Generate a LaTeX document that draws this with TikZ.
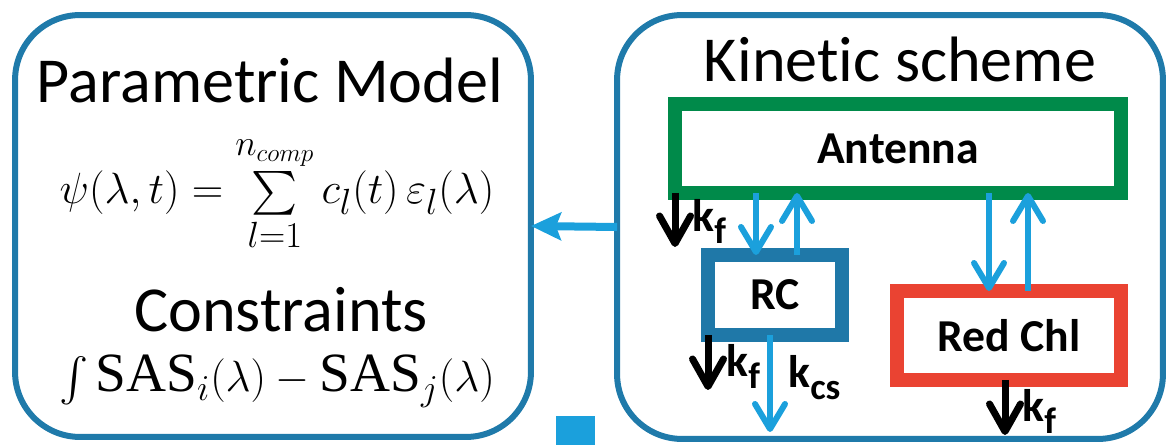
\documentclass[tikz,border=0pt]{standalone}
\usepackage{exscale}
\usepackage{fontspec}
\setmainfont{Carlito}[Ligatures=NoCommon]
\setmathrm{Liberation Serif}
\usetikzlibrary{arrows.meta,calc}

\definecolor{panelblue}{RGB}{31,122,170}
\definecolor{flowblue}{RGB}{27,160,220}
\definecolor{antgreen}{RGB}{0,138,74}
\definecolor{chlred}{RGB}{234,67,50}
\definecolor{rcblue}{RGB}{31,120,168}

\newcommand{\rate}[1]{k\raisebox{-6.5pt}{\fontsize{21}{21}\selectfont #1}}

\tikzset{
  panel/.style={draw=panelblue, line width=0.12cm, rounded corners=1.3cm,
    inner sep=0pt, outer sep=0pt},
  state/.style={draw, line width=0.28cm, inner sep=0pt, outer sep=0pt,
    font=\bfseries\fontsize{26}{30}\selectfont},
  flow/.style={draw=flowblue, line width=0.12cm,
    -{Straight Barb[length=0.5cm, width=0.6cm, round]}},
  decay/.style={draw=black, line width=0.14cm,
    -{Straight Barb[length=0.55cm, width=0.62cm, round]}},
  link/.style={draw=flowblue, line width=0.16cm,
    -{Stealth[length=0.6cm, width=0.55cm, inset=0.1cm]}},
  heading/.style={font=\fontsize{36.5}{42}\selectfont, inner sep=0pt},
  ratelabel/.style={font=\bfseries\fontsize{26}{30}\selectfont, inner sep=0pt},
  formula/.style={font=\fontsize{31.5}{36}\selectfont, inner sep=0pt}
}

\begin{document}
\begin{tikzpicture}[x=0.02cm, y=-0.02cm]
  \useasboundingbox (0,0) rectangle (1166,445);

  % the two panels
  \node[panel, minimum width=10.32cm, minimum height=8.44cm] (model) at (273,226) {};
  \node[panel, minimum width=10.92cm, minimum height=8.48cm] (scheme) at (890,227) {};
  \draw[link] (scheme.west) -- (model.east);
  \fill[flowblue] (556,416) rectangle (595,445);

  % left panel
  \node[heading, anchor=base] (title) at (270,103) {Parametric Model};
  \node[formula, anchor=base] (psi) at (277,204)
    {$\psi(\lambda,t)=\sum\limits_{l=1}^{n_{comp}\rule[-4pt]{0pt}{4pt}} c_l(t)\,\varepsilon_l(\lambda)$};
  \node[heading, anchor=base] (constr) at (281,332) {Constraints};
  \node[formula, anchor=base] (sas) at (277,392)
    {$\int \mathrm{SAS}_i(\lambda)-\mathrm{SAS}_j(\lambda)$};

  % right panel
  \node[heading, anchor=base] (kin) at (900,82) {Kinetic scheme};
  \node[state, draw=antgreen, minimum width=8.92cm, minimum height=1.78cm] (antenna) at (898,148.5) {Antenna};
  \node[state, draw=rcblue, minimum width=2.68cm, minimum height=1.6cm] (rc) at (775,295) {RC};
  \node[state, draw=chlred, minimum width=4.48cm, minimum height=1.78cm] (red) at (1009,335.5) {Red Chl};

  \coordinate (rcin) at ($(rc.north)+(-19,0)$);
  \coordinate (rcout) at ($(rc.north)+(22,0)$);
  \coordinate (redin) at ($(red.north)+(-20,0)$);
  \coordinate (redout) at ($(red.north)+(19,0)$);
  \coordinate (rcdrain) at ($(rc.south)+(-5,0)$);

  \draw[flow] (rcin |- antenna.south) -- (rcin);
  \draw[flow] (rcout) -- (rcout |- antenna.south);
  \draw[flow] (redin |- antenna.south) -- (redin);
  \draw[flow] (redout) -- (redout |- antenna.south);
  \draw[flow] (rcdrain) -- ++(0,97);

  \draw[decay] (antenna.south west) -- ++(0,54);
  \draw[decay] (rc.south west) -- ++(0,55);
  \draw[decay] ([xshift=-0.08cm]red.south) -- ++(0,55);

  \node[ratelabel, anchor=base west] (kfa) at (692,232) {\rate{f}};
  \node[ratelabel, anchor=base west] (kfrc) at (726,377) {\rate{f}};
  \node[ratelabel, anchor=base west] (kcs) at (788,388) {\rate{cs}};
  \node[ratelabel, anchor=base west] (kfred) at (1022,422) {\rate{f}};
\end{tikzpicture}
\end{document}
